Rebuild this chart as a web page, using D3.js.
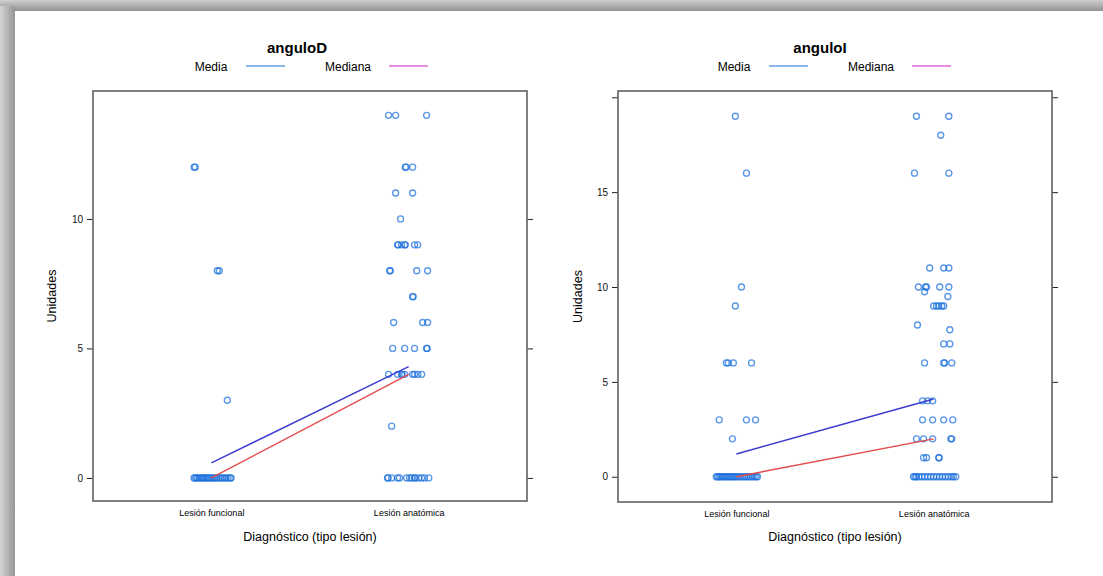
<!DOCTYPE html>
<html>
<head>
<meta charset="utf-8">
<script src="https://cdn.jsdelivr.net/npm/d3@7"></script>
<style>
  body { margin: 0; background: #fff; }
  svg { display: block; font-family: "Liberation Sans", Arial, sans-serif; }
</style>
</head>
<body>
<div id="holder"></div>
<script>
const w = 1103;
const h = 576;

// Data
const categories = ["Lesión funcional", "Lesión anatómica"];
const panelTitles = ["anguloD", "anguloI"];
const legendLabels = ["Media", "Mediana"];
const xTitle = "Diagnóstico (tipo lesión)";
const yTitle = "Unidades";

const yTicksD = [0, 5, 10];
const yTickLabelsD = ["0", "5", "10"];
const yTicksI = [0, 5, 10, 15, 20];
const yTickLabelsI = ["0", "5", "10", "15", ""];

// mean / median per category
const meanD = [0.58, 4.3];
const medianD = [0, 4];
const meanI = [1.2, 4.1];
const medianI = [0, 2];

// [jittered category position, value]
const pointsD = [
  [0.913, 12], [0.918, 12], [1.030, 8], [1.040, 8], [1.081, 3],
  [0.912, 0], [0.918, 0], [0.925, 0], [0.931, 0], [0.940, 0], [0.948, 0], [0.955, 0],
  [0.962, 0], [0.970, 0], [0.978, 0], [0.985, 0], [0.992, 0], [1.000, 0], [1.010, 0],
  [1.018, 0], [1.026, 0], [1.035, 0], [1.045, 0], [1.055, 0], [1.065, 0], [1.075, 0],
  [1.085, 0], [1.095, 0], [1.100, 0],
  [1.898, 14], [1.934, 14], [2.091, 14],
  [1.983, 12], [1.987, 12], [2.020, 12],
  [1.934, 11], [2.020, 11],
  [1.959, 10],
  [1.944, 9], [1.947, 9], [1.964, 9], [1.980, 9], [1.983, 9], [2.030, 9], [2.046, 9],
  [1.904, 8], [1.907, 8], [2.041, 8], [2.096, 8],
  [2.020, 7], [2.023, 7],
  [1.924, 6], [2.071, 6], [2.096, 6],
  [1.919, 5], [1.980, 5], [2.030, 5], [2.091, 5], [2.094, 5],
  [1.898, 4], [1.944, 4], [1.964, 4], [1.967, 4], [1.980, 4], [2.020, 4], [2.030, 4],
  [2.046, 4], [2.066, 4],
  [1.914, 2],
  [1.893, 0], [1.896, 0], [1.914, 0], [1.944, 0], [1.954, 0], [1.990, 0], [2.005, 0],
  [2.015, 0], [2.030, 0], [2.033, 0], [2.051, 0], [2.066, 0], [2.081, 0], [2.102, 0]
];

const pointsI = [
  [0.995, 19], [1.051, 16], [1.026, 10], [0.995, 9],
  [0.949, 6], [0.959, 6], [0.985, 6], [1.077, 6],
  [0.913, 3], [1.051, 3], [1.097, 3], [0.980, 2],
  [0.898, 0], [0.905, 0], [0.912, 0], [0.920, 0], [0.928, 0], [0.936, 0], [0.944, 0],
  [0.952, 0], [0.960, 0], [0.968, 0], [0.976, 0], [0.984, 0], [0.992, 0], [1.000, 0],
  [1.010, 0], [1.020, 0], [1.030, 0], [1.040, 0], [1.050, 0], [1.060, 0], [1.070, 0],
  [1.080, 0], [1.090, 0], [1.100, 0], [1.107, 0],
  [1.913, 19], [2.077, 19], [2.036, 18], [1.903, 16], [2.077, 16],
  [1.980, 11], [2.051, 11], [2.077, 11],
  [1.923, 10], [1.959, 10], [1.964, 10], [2.031, 10], [2.077, 10],
  [1.954, 9.75], [2.072, 9.5],
  [2.000, 9], [2.015, 9], [2.026, 9], [2.041, 9], [2.051, 9],
  [1.918, 8], [2.082, 7.75], [2.051, 7], [2.082, 7],
  [1.954, 6], [2.051, 6], [2.056, 6], [2.092, 6],
  [1.944, 4], [1.969, 4], [1.995, 4],
  [1.944, 3], [1.995, 3], [2.051, 3], [2.097, 3],
  [1.913, 2], [1.949, 2], [1.995, 2], [2.087, 2], [2.092, 2],
  [1.949, 1], [1.964, 1], [2.026, 1], [2.028, 1],
  [1.898, 0], [1.905, 0], [1.913, 0], [1.925, 0], [1.940, 0], [1.955, 0], [1.970, 0],
  [1.985, 0], [2.000, 0], [2.015, 0], [2.030, 0], [2.045, 0], [2.060, 0], [2.075, 0],
  [2.090, 0], [2.100, 0], [2.112, 0]
];

// Create svg
const svg = d3.select("#holder")
  .append("svg")
  .attr("width", w)
  .attr("height", h);

// page shadow frame
const defs = svg.append("defs");
const gTop = defs.append("linearGradient").attr("id", "gTop")
  .attr("x1", 0).attr("y1", 0).attr("x2", 0).attr("y2", 1);
gTop.append("stop").attr("offset", "0%").attr("stop-color", "#cfcfcf");
gTop.append("stop").attr("offset", "100%").attr("stop-color", "#929292");
const gLeft = defs.append("linearGradient").attr("id", "gLeft")
  .attr("x1", 0).attr("y1", 0).attr("x2", 1).attr("y2", 0);
gLeft.append("stop").attr("offset", "0%").attr("stop-color", "#d4d4d4");
gLeft.append("stop").attr("offset", "100%").attr("stop-color", "#959595");

svg.append("rect").attr("x", 0).attr("y", 0).attr("width", w).attr("height", h).attr("fill", "#fff");
svg.append("rect").attr("x", 0).attr("y", 0).attr("width", w).attr("height", 11).attr("fill", "url(#gTop)");
svg.append("rect").attr("x", 0).attr("y", 6).attr("width", 15).attr("height", h).attr("fill", "url(#gLeft)");

// Panels
const panels = [
  {
    title: panelTitles[0], points: pointsD, mean: meanD, median: medianD,
    ticks: yTicksD, tickLabels: yTickLabelsD, yDomain: [-0.89, 14.94],
    left: 93, right: 527, top: 91, bottom: 501, titleX: 297, yTitleX: 52
  },
  {
    title: panelTitles[1], points: pointsI, mean: meanI, median: medianI,
    ticks: yTicksI, tickLabels: yTickLabelsI, yDomain: [-1.33, 20.33],
    left: 618, right: 1052, top: 91, bottom: 502, titleX: 820, yTitleX: 578
  }
];

panels.forEach(function (p) {
  const x = d3.scaleLinear().domain([0.4, 2.6]).range([p.left, p.right]);
  const y = d3.scaleLinear().domain(p.yDomain).range([p.bottom, p.top]);
  const g = svg.append("g");

  // title and legend
  g.append("text")
    .attr("x", p.titleX).attr("y", 53)
    .attr("text-anchor", "middle")
    .attr("font-size", 15).attr("font-weight", "bold").attr("fill", "#000")
    .text(p.title);

  const legendCols = ["#8cb6ea", "#e88ce2"];
  const legendText = [p.titleX - 86, p.titleX + 51];
  const legendLine = [p.titleX - 51, p.titleX + 92];
  legendLabels.forEach(function (lab, i) {
    g.append("text")
      .attr("x", legendText[i]).attr("y", 71)
      .attr("text-anchor", "middle")
      .attr("font-size", 12).attr("fill", "#000")
      .text(lab);
    g.append("line")
      .attr("x1", legendLine[i]).attr("x2", legendLine[i] + 39)
      .attr("y1", 66).attr("y2", 66)
      .attr("stroke", legendCols[i]).attr("stroke-width", 1.8);
  });

  // y axes, left with labels and right ticks only
  const yAxisL = d3.axisLeft(y).tickValues(p.ticks).tickSize(6).tickPadding(4)
    .tickFormat(function (d, i) { return p.tickLabels[i]; });
  g.append("g")
    .attr("transform", `translate(${p.left},0)`)
    .call(yAxisL)
    .call(a => a.select(".domain").remove())
    .call(a => a.selectAll("line").attr("stroke", "#222"))
    .call(a => a.selectAll("text").attr("font-size", 10).attr("fill", "#111")
      .attr("font-family", "Liberation Sans, Arial, sans-serif"));

  const yAxisR = d3.axisRight(y).tickValues(p.ticks).tickSize(6).tickFormat("");
  g.append("g")
    .attr("transform", `translate(${p.right},0)`)
    .call(yAxisR)
    .call(a => a.select(".domain").remove())
    .call(a => a.selectAll("line").attr("stroke", "#222"));

  // x category labels
  const xAxis = d3.axisBottom(x).tickValues([1, 2]).tickSize(0).tickPadding(9)
    .tickFormat(function (d) { return categories[d - 1]; });
  g.append("g")
    .attr("transform", `translate(0,${p.bottom})`)
    .call(xAxis)
    .call(a => a.select(".domain").remove())
    .call(a => a.selectAll("text").attr("font-size", 9).attr("fill", "#000")
      .attr("font-family", "Liberation Sans, Arial, sans-serif"));

  // axis titles
  g.append("text")
    .attr("x", (p.left + p.right) / 2).attr("y", 541)
    .attr("text-anchor", "middle")
    .attr("font-size", 12.5).attr("fill", "#000")
    .text(xTitle);
  g.append("text")
    .attr("transform", `translate(${p.yTitleX + 4},${(p.top + p.bottom) / 2}) rotate(-90)`)
    .attr("text-anchor", "middle")
    .attr("font-size", 12.5).attr("fill", "#000")
    .text(yTitle);

  // panel box
  g.append("rect")
    .attr("x", p.left).attr("y", p.top)
    .attr("width", p.right - p.left).attr("height", p.bottom - p.top)
    .attr("fill", "none").attr("stroke", "#6a6a6a").attr("stroke-width", 1.7);

  // points
  g.selectAll("circle")
    .data(p.points)
    .join("circle")
    .attr("cx", function (d) { return x(d[0]); })
    .attr("cy", function (d) { return y(d[1]); })
    .attr("r", 3)
    .attr("fill", "none")
    .attr("stroke", "#1a6fdc")
    .attr("stroke-opacity", 0.72)
    .attr("stroke-width", 1.35);

  // mean and median lines
  const line = d3.line()
    .x(function (d, i) { return x(i + 1); })
    .y(function (d) { return y(d); });
  g.append("path").datum(p.mean).attr("d", line)
    .attr("fill", "none").attr("stroke", "#3b3bd0").attr("stroke-width", 1.4);
  g.append("path").datum(p.median).attr("d", line)
    .attr("fill", "none").attr("stroke", "#e24a4a").attr("stroke-width", 1.4);
});
</script>
</body>
</html>
